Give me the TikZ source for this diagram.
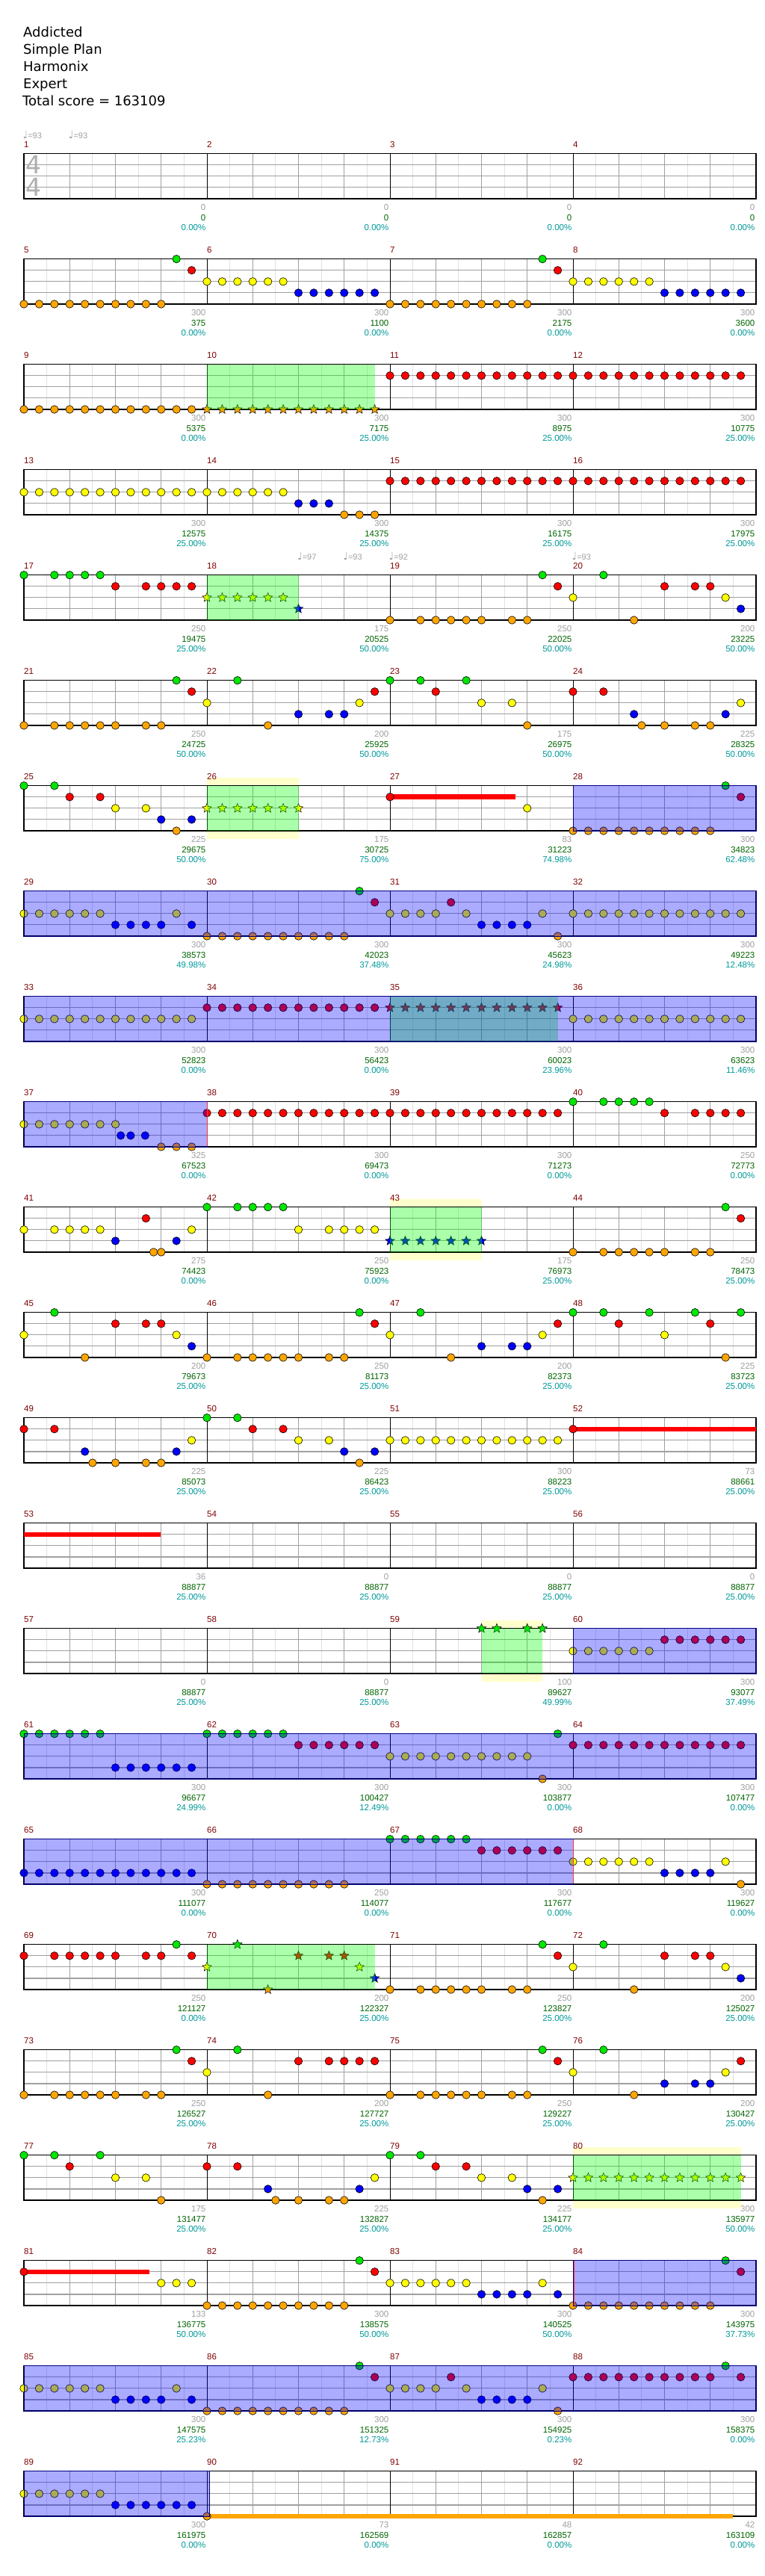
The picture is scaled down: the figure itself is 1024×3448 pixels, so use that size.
\documentclass[tikz,border=0pt]{standalone}
\usepackage{fontspec}
\setmainfont{DejaVu Sans}
\newfontfamily\labfont{Liberation Sans}
\usetikzlibrary{shapes.geometric}
\definecolor{L0}{RGB}{0,230,0}
\definecolor{L1}{RGB}{255,0,0}
\definecolor{L2}{RGB}{255,255,0}
\definecolor{L3}{RGB}{0,0,255}
\definecolor{L4}{RGB}{255,165,0}
\definecolor{mnum}{RGB}{128,0,0}
\definecolor{lgray}{RGB}{160,160,160}
\definecolor{lgreen}{RGB}{0,100,0}
\definecolor{lteal}{RGB}{0,153,153}
\definecolor{gridq}{RGB}{160,160,160}
\definecolor{gride}{RGB}{225,225,225}
\definecolor{zonebd}{RGB}{0,0,128}
\definecolor{ylw}{RGB}{255,255,204}
\definecolor{tsig}{RGB}{175,175,175}
\tikzset{
 notec/.style={circle, draw=black, line width=0.6pt, inner sep=0pt, minimum size=10.5pt},
 notestar/.style={star, star points=5, star point ratio=2.3, draw=black, line width=0.5pt, inner sep=0pt, minimum size=13pt},
 lab/.style={font=\labfont\fontsize{11.5}{12}\selectfont, inner sep=0pt},
 tempo/.style={text=lgray, inner sep=0pt, anchor=west},
 title/.style={font=\fontsize{18}{20}\selectfont, inner sep=0pt, anchor=base west},
}
\newcommand\setpos[3]{%
 \pgfmathtruncatemacro\rw{(#1-1)/4}%
 \pgfmathtruncatemacro\cl{#1-1-4*\rw}%
 \pgfmathsetmacro\xx{32+245*\cl+245/12*#2}%
 \pgfmathsetmacro\yy{205.7+141*\rw+15.075*#3}}
\newcommand\putnote[4]{\setpos{#1}{#2}{#3}\pgfmathtruncatemacro\lnum{#3}\edef\nc{L\lnum}\node[#4, fill=\nc] at (\xx,\yy) {};}
\begin{document}
\begin{tikzpicture}[x=1pt,y=-1pt]
\useasboundingbox (0,0) rectangle (1024,3448);
\fill[white] (0,0) rectangle (1024,3448);
% title
\node[title] (t1) at (31,49) {Addicted};
\node[title] (t2) at (31,72) {Simple Plan};
\node[title] (t3) at (31,95) {Harmonix};
\node[title] (t4) at (31,118) {Expert};
\node[title] (t5) at (30,141) {Total score = 163109};
% yellow backgrounds
\foreach \m/\pa/\pb in {26/0/6,43/0/6,59/6/10,80/0/11}{
 \setpos{\m}{\pa}{0}\let\xa\xx\let\ya\yy
 \setpos{\m}{\pb}{0}
 \fill[ylw] (\xa,\ya-10.5) rectangle (\xx,\ya+71);
}
% staffs
\foreach \r in {0,...,22}{
 \pgfmathsetmacro\ty{205.7+141*\r}
 \fill[white] (32,\ty) rectangle (1012,\ty+60.3);
 \foreach \k in {0,...,15} \draw[gride, line width=0.8pt] ({32+30.625*(2*\k+1)},\ty) -- ++(0,60.3);
 \foreach \k in {1,2,3,5,6,7,9,10,11,13,14,15} \draw[gridq, line width=0.9pt] ({32+61.25*\k},\ty) -- ++(0,60.3);
 \foreach \j in {1,2,3} \draw[gridq, line width=1.1pt] (32,\ty+15.075*\j) -- (1012,\ty+15.075*\j);
 \foreach \k in {1,2,3} \draw[black, line width=0.8pt] ({32+245*\k},\ty) -- ++(0,60.3);
 \draw[black, line width=1.3pt] (32,\ty) rectangle (1012,\ty+60.3);
}
% time signature
\node[text=tsig, font=\fontsize{33}{33}\selectfont, inner sep=0pt] (ts1) at (45,220.5) {4};
\node[text=tsig, font=\fontsize{33}{33}\selectfont, inner sep=0pt] (ts2) at (45,250.5) {4};
% tempo marks
\foreach \m/\p/\v in {1/0/93,1/3/93,18/6/97,18/9/93,19/0/92,20/0/93}{
 \setpos{\m}{\p}{0}
 \node[tempo] at (\xx-1.5,\yy-25.5) {{\fontsize{14}{14}\selectfont ♩}{\labfont\fontsize{11}{11}\selectfont=\v}};
}
% sustains
\setpos{27}{0}{1}\fill[L1] (\xx,\yy-3.3) rectangle (690,\yy+3.3);
\setpos{52}{0}{1}\fill[L1] (\xx,\yy-3.3) rectangle (1012,\yy+3.3);
\setpos{53}{0}{1}\fill[L1] (\xx,\yy-3.3) rectangle (215,\yy+3.3);
\setpos{81}{0}{1}\fill[L1] (\xx,\yy-3.3) rectangle (200,\yy+3.3);
\setpos{90}{0}{4}\fill[L4] (\xx,\yy-3.3) rectangle (981,\yy+3.3);
% notes
\foreach \m/\l/\ps in {
5/4/{0,...,9},5/0/{10},5/1/{11},
6/2/{0,...,5},6/3/{6,...,11},
7/4/{0,...,9},7/0/{10},7/1/{11},
8/2/{0,...,5},8/3/{6,...,11},
9/4/{0,...,11},
11/1/{0,...,11},12/1/{0,...,11},
13/2/{0,...,11},
14/2/{0,...,5},14/3/{6,7,8},14/4/{9,10,11},
15/1/{0,...,11},16/1/{0,...,11},
17/0/{0,2,3,4,5},17/1/{6,8,9,10,11},
19/4/{0,2,3,4,5,6,8,9},19/0/{10},19/1/{11},
20/2/{0,10},20/0/{2},20/4/{4},20/1/{6,8,9},20/3/{11},
21/4/{0,2,3,4,5,6,8,9},21/0/{10},21/1/{11},
22/2/{0,10},22/0/{2},22/4/{4},22/3/{6,8,9},22/1/{11},
23/0/{0,2,5},23/1/{3},23/2/{6,8},23/4/{9},
24/1/{0,2},24/3/{4,10},24/4/{4.5,6,8,9},24/2/{11},
25/0/{0,2},25/1/{3,5},25/2/{6,8},25/3/{9,11},25/4/{10},
27/1/{0},27/2/{9},
28/4/{0,...,9},28/0/{10},28/1/{11},
29/2/{0,1,2,3,4,5,10},29/3/{6,7,8,9,11},
30/4/{0,...,9},30/0/{10},30/1/{11},
31/2/{0,1,2,3,5,10},31/1/{4},31/3/{6,7,8,9},31/4/{11},
32/2/{0,...,11},
33/2/{0,...,11},34/1/{0,...,11},36/2/{0,...,11},
37/2/{0,...,6},37/3/{6.35,7,7.95},37/4/{9,10,11},
38/1/{0,...,11},39/1/{0,...,11},
40/0/{0,2,3,4,5},40/1/{6,8,9,10,11},
41/2/{0,2,3,4,5,11},41/3/{6,10},41/1/{8},41/4/{8.5,9},
42/0/{0,2,3,4,5},42/2/{6,8,9,10,11},
44/4/{0,2,3,4,5,6,8,9},44/0/{10},44/1/{11},
45/2/{0,10},45/0/{2},45/4/{4},45/1/{6,8,9},45/3/{11},
46/4/{0,2,3,4,5,6,8,9},46/0/{10},46/1/{11},
47/2/{0,10},47/0/{2},47/4/{4},47/3/{6,8,9},47/1/{11},
48/0/{0,2,5,8,11},48/1/{3,9},48/2/{6},48/4/{10},
49/1/{0,2},49/3/{4,10},49/4/{4.5,6,8,9},49/2/{11},
50/0/{0,2},50/1/{3,5},50/2/{6,8},50/3/{9,11},50/4/{10},
51/2/{0,...,11},
52/1/{0},
60/2/{0,...,5},60/1/{6,...,11},
61/0/{0,...,5},61/3/{6,...,11},
62/0/{0,...,5},62/1/{6,...,11},
63/2/{0,...,9},63/4/{10},63/0/{11},
64/1/{0,...,11},
65/3/{0,...,11},
66/4/{0,...,9},
67/0/{0,...,5},67/1/{6,...,11},
68/2/{0,1,2,3,4,5,10},68/3/{6,7,8,9},68/4/{11},
69/1/{0,2,3,4,5,6,8,9,11},69/0/{10},
71/4/{0,2,3,4,5,6,8,9},71/0/{10},71/1/{11},
72/2/{0,10},72/0/{2},72/4/{4},72/1/{6,8,9},72/3/{11},
73/4/{0,2,3,4,5,6,8,9},73/0/{10},73/1/{11},
74/2/{0},74/0/{2},74/4/{4},74/1/{6,8,9,10,11},
75/4/{0,2,3,4,5,6,8,9},75/0/{10},75/1/{11},
76/2/{0,10},76/0/{2},76/4/{4},76/3/{6,8,9},76/1/{11},
77/0/{0,2,5},77/1/{3},77/2/{6,8},77/4/{9},
78/1/{0,2},78/3/{4,10},78/4/{4.5,6,8,9},78/2/{11},
79/0/{0,2},79/1/{3,5},79/2/{6,8},79/3/{9,11},79/4/{10},
81/1/{0},81/2/{9,10,11},
82/4/{0,...,9},82/0/{10},82/1/{11},
83/2/{0,1,2,3,4,5,10},83/3/{6,7,8,9,11},
84/4/{0,...,9},84/0/{10},84/1/{11},
85/2/{0,1,2,3,4,5,10},85/3/{6,7,8,9,11},
86/4/{0,...,9},86/0/{10},86/1/{11},
87/2/{0,1,2,3,5,10},87/1/{4},87/3/{6,7,8,9},87/4/{11},
88/1/{0,1,2,3,4,5,6,7,8,9,11},88/0/{10},
89/2/{0,...,5},89/3/{6,...,11},
90/4/{0}}{
 \foreach \p in \ps {\putnote{\m}{\p}{\l}{notec}}
}
% star notes
\foreach \m/\l/\ps in {
10/4/{0,...,11},
18/2/{0,...,5},18/3/{6},
26/2/{0,...,6},
35/1/{0,...,11},
43/3/{0,...,6},
59/0/{6,7,9,10},
70/2/{0,10},70/0/{2},70/4/{4},70/1/{6,8,9},70/3/{11},
80/2/{0,...,11}}{
 \foreach \p in \ps {\putnote{\m}{\p}{\l}{notestar}}
}
% star power phrases (green)
\foreach \m/\pa/\pb in {10/0/11,18/0/6,26/0/6,35/0/11,43/0/6,59/6/10,70/0/11,80/0/11}{
 \setpos{\m}{\pa}{0}\let\xa\xx\let\ya\yy
 \setpos{\m}{\pb}{0}
 \fill[green, fill opacity=0.33] (\xa,\ya) rectangle (\xx,\ya+60.3);
}
% star power activation (blue)
\foreach \r/\xa/\xb in {6/767/1012,7/32/1012,8/32/1012,9/32/277,14/767/1012,15/32/1012,16/32/767,20/767/1012,21/32/1012,22/32/280}{
 \pgfmathsetmacro\ty{205.7+141*\r}
 \filldraw[fill=blue, fill opacity=0.33, draw=zonebd, line width=1pt] (\xa,\ty) rectangle (\xb,\ty+60.3);
}
\foreach \r/\xa in {9/277.5,16/767.5,20/768}{
 \pgfmathsetmacro\ty{205.7+141*\r}
 \draw[red!80, line width=1pt] (\xa,\ty+0.7) -- (\xa,\ty+59.6);
}
% measure numbers
\foreach \m in {1,...,92}{
 \setpos{\m}{0}{0}
 \node[lab, text=mnum, anchor=west] at (\xx,\yy-12) {\m};
}
% labels under measures
\foreach \m/\a/\b/\c in {
1/0/0/0.00,2/0/0/0.00,3/0/0/0.00,4/0/0/0.00,
5/300/375/0.00,6/300/1100/0.00,7/300/2175/0.00,8/300/3600/0.00,
9/300/5375/0.00,10/300/7175/25.00,11/300/8975/25.00,12/300/10775/25.00,
13/300/12575/25.00,14/300/14375/25.00,15/300/16175/25.00,16/300/17975/25.00,
17/250/19475/25.00,18/175/20525/50.00,19/250/22025/50.00,20/200/23225/50.00,
21/250/24725/50.00,22/200/25925/50.00,23/175/26975/50.00,24/225/28325/50.00,
25/225/29675/50.00,26/175/30725/75.00,27/83/31223/74.98,28/300/34823/62.48,
29/300/38573/49.98,30/300/42023/37.48,31/300/45623/24.98,32/300/49223/12.48,
33/300/52823/0.00,34/300/56423/0.00,35/300/60023/23.96,36/300/63623/11.46,
37/325/67523/0.00,38/300/69473/0.00,39/300/71273/0.00,40/250/72773/0.00,
41/275/74423/0.00,42/250/75923/0.00,43/175/76973/25.00,44/250/78473/25.00,
45/200/79673/25.00,46/250/81173/25.00,47/200/82373/25.00,48/225/83723/25.00,
49/225/85073/25.00,50/225/86423/25.00,51/300/88223/25.00,52/73/88661/25.00,
53/36/88877/25.00,54/0/88877/25.00,55/0/88877/25.00,56/0/88877/25.00,
57/0/88877/25.00,58/0/88877/25.00,59/100/89627/49.99,60/300/93077/37.49,
61/300/96677/24.99,62/300/100427/12.49,63/300/103877/0.00,64/300/107477/0.00,
65/300/111077/0.00,66/250/114077/0.00,67/300/117677/0.00,68/300/119627/0.00,
69/250/121127/0.00,70/200/122327/25.00,71/250/123827/25.00,72/200/125027/25.00,
73/250/126527/25.00,74/200/127727/25.00,75/250/129227/25.00,76/200/130427/25.00,
77/175/131477/25.00,78/225/132827/25.00,79/225/134177/25.00,80/300/135977/50.00,
81/133/136775/50.00,82/300/138575/50.00,83/300/140525/50.00,84/300/143975/37.73,
85/300/147575/25.23,86/300/151325/12.73,87/300/154925/0.23,88/300/158375/0.00,
89/300/161975/0.00,90/73/162569/0.00,91/48/162857/0.00,92/42/163109/0.00}{
 \setpos{\m}{12}{0}
 \node[lab, text=lgray, anchor=east] at (\xx-1.5,\yy+72) {\a};
 \node[lab, text=lgreen, anchor=east] at (\xx-1.5,\yy+85.5) {\b};
 \node[lab, text=lteal, anchor=east] at (\xx-1.5,\yy+99) {\c\%};
}
\end{tikzpicture}
\end{document}
